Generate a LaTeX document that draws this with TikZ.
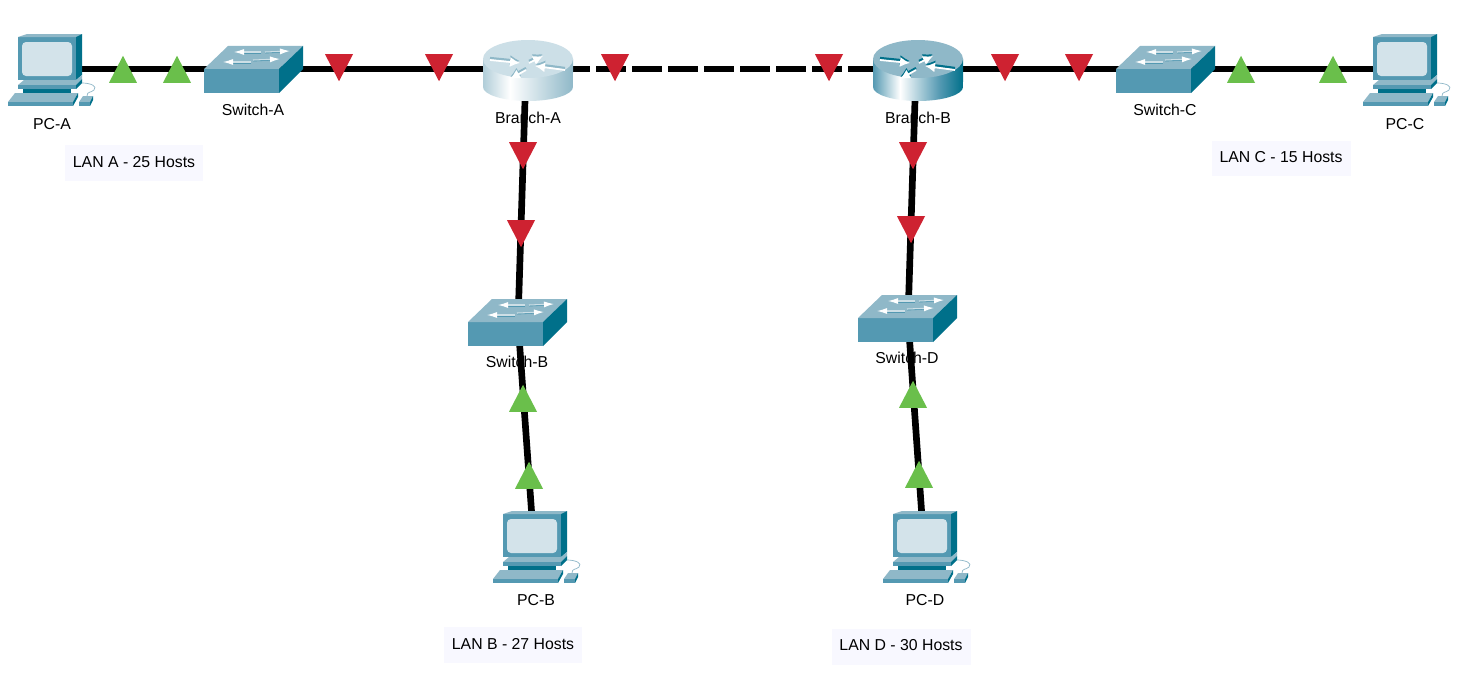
\documentclass[tikz,border=0pt]{standalone}
\usepackage{fontspec}
\setmainfont{Liberation Sans}
\usetikzlibrary{shapes.geometric,arrows.meta}
\definecolor{devfront}{HTML}{5499B2}
\definecolor{devtop}{HTML}{8FB8C8}
\definecolor{devside}{HTML}{00708A}
\definecolor{devscreen}{HTML}{D3E3EA}
\definecolor{linkred}{HTML}{CE2231}
\definecolor{linkgreen}{HTML}{6ABF4B}
\definecolor{lanfill}{HTML}{F8F8FF}
\pgfdeclarehorizontalshading{routerpale}{100bp}{color(0bp)=(white!30!devtop); color(25bp)=(white!30!devtop); color(40bp)=(white); color(75bp)=(devtop); color(100bp)=(devtop)}
\pgfdeclarehorizontalshading{routerdeep}{100bp}{color(0bp)=(devfront); color(25bp)=(devfront); color(40bp)=(white); color(62bp)=(devfront); color(75bp)=(devside); color(100bp)=(devside)}
\tikzset{
	spot/.style={inner sep=0pt, minimum size=0pt},
	link/.style={line width=3.8pt, color=black},
	reddown/.style={isosceles triangle, isosceles triangle apex angle=54, isosceles triangle stretches, fill=linkred, inner sep=0pt, minimum height=0.54cm, minimum width=0.56cm, shape border rotate=-90, anchor=apex},
	greenup/.style={isosceles triangle, isosceles triangle apex angle=54, isosceles triangle stretches, fill=linkgreen, inner sep=0pt, minimum height=0.54cm, minimum width=0.56cm, shape border rotate=90, anchor=apex},
	devlabel/.style={inner sep=0pt, font=\fontsize{9}{11}\selectfont},
	lanbox/.style={fill=lanfill, inner sep=0pt, minimum width=2.78cm, minimum height=0.72cm, text depth=1.2pt, font=\fontsize{9}{11}\selectfont},
	sharrow/.style={-{Latex[length=0.2cm, width=0.12cm, color=white]}, white!55!devtop, line width=0.6pt},
	shshadow/.style={line width=0.5pt, devfront},
	rtshadow/.style={-{Latex[length=0.2cm, width=0.2cm]}, line width=1.3pt},
	rtarrow/.style={-{Latex[length=0.2cm, width=0.2cm]}, white, line width=1pt},
}
\def\pcicon(#1){
	\begin{scope}[shift={(#1)}, xshift=-0.62cm, yshift=0.64cm]
		\fill[devfront] (0,0) rectangle (58,43);
		\fill[devtop] (0,0) -- (9,-3) -- (64,-3) -- (58,0) -- cycle;
		\fill[devside] (58,0) -- (64,-3) -- (64,38) -- (58,43) -- cycle;
		\fill[devscreen, rounded corners=0.08cm] (4,5) rectangle (54,39);
		\fill[devtop] (0,48) -- (6,43) -- (58,43) -- (64,38) -- (64,42) -- (58,48) -- cycle;
		\fill[devfront] (0,48) rectangle (58,52);
		\fill[devside] (58,48) -- (64,42) -- (64,46) -- (58,52) -- cycle;
		\fill[devside] (5,52) rectangle (53,56);
		\fill[devtop] (-3,56) -- (60,56) -- (55,65) -- (-10,65) -- cycle;
		\fill[devfront] (-10,65) rectangle (55,69);
		\fill[devside] (55,65) -- (60,56) -- (60,60) -- (55,69) -- cycle;
		\fill[devtop] (61,65) -- (65,59) -- (75,59) -- (72,65) -- cycle;
		\fill[devfront] (61,65) rectangle (72,69);
		\fill[devside] (72,65) -- (75,59) -- (75,63) -- (72,69) -- cycle;
		\draw[devtop, line width=0.4pt] (64,46) .. controls (72,46) and (80,49) .. (76,53) .. controls (73,56) and (69,54) .. (69,59);
	\end{scope}
}
\def\switchicon(#1){
	\begin{scope}[shift={(#1)}]
		\fill[devfront] (-50,0) rectangle (25,24);
		\fill[devtop] (-50,0) -- (-26,-23) -- (49,-23) -- (25,0) -- cycle;
		\fill[devside] (25,0) -- (49,-23) -- (49,0) -- (25,24) -- cycle;
		\draw[shshadow] (7,-16) -- (-14,-16);
		\draw[sharrow] (7,-17) -- (-20,-17);
		\draw[shshadow] (11,-16) -- (30,-17);
		\draw[sharrow] (11,-17) -- (36,-18);
		\draw[shshadow] (-3,-6) -- (-25,-6);
		\draw[sharrow] (-3,-7) -- (-31,-7);
		\draw[shshadow] (-1,-8) -- (20,-9);
		\draw[sharrow] (-1,-9) -- (26,-10);
	\end{scope}
}
\def\routericon(#1)[#2][#3][#4]{
	\begin{scope}[shift={(#1)}]
		\path[shading=#2] (-43,-10) -- (-43,18) arc [start angle=180, end angle=360, x radius=0.9cm, y radius=0.28cm] -- (47,-10) -- cycle;
		\fill[#3] (2,-10) ellipse [x radius=0.9cm, y radius=0.38cm];
		\draw[rtshadow, #4] (-36,-11) -- (-6,-8);
		\draw[rtarrow] (-36,-9) -- (-6,-6);
		\draw[rtshadow, #4] (3,-8) -- (17,-15);
		\draw[rtarrow] (3,-6) -- (17,-13);
		\draw[rtshadow, #4] (39,-1) -- (9,-5);
		\draw[rtarrow] (39,1) -- (9,-3);
		\draw[rtshadow, #4] (0,-1) -- (-16,8);
		\draw[rtarrow] (0,1) -- (-16,10);
	\end{scope}
}

\begin{document}
\begin{tikzpicture}[x=0.02cm, y=-0.02cm]
	%%%%% START %%%%%
	\useasboundingbox (0,0) rectangle (1473,679);
	\fill[white] (0,0) rectangle (1473,679);

	\node[spot] (pcA) at (49,69) {};
	\node[spot] (switchA) at (254,69) {};
	\node[spot] (branchA) at (526,69) {};
	\node[spot] (branchB) at (916,69) {};
	\node[spot] (switchC) at (1166,69) {};
	\node[spot] (pcC) at (1404,69) {};
	\node[spot] (switchB) at (518,322) {};
	\node[spot] (pcB) at (534,546) {};
	\node[spot] (switchD) at (908,318) {};
	\node[spot] (pcD) at (924,546) {};

	\draw[link] (pcA) -- (switchA);
	\draw[link] (switchA) -- (branchA);
	\draw[link, dash pattern=on 0.6cm off 0.12cm, dash phase=0.04cm] (branchA) -- (branchB);
	\draw[link] (branchB) -- (switchC);
	\draw[link] (switchC) -- (pcC);
	\draw[link] (branchA) -- (switchB);
	\draw[link] (switchB) -- (pcB);
	\draw[link] (branchB) -- (switchD);
	\draw[link] (switchD) -- (pcD);

	\pcicon(pcA)
	\pcicon(pcB)
	\pcicon(pcC)
	\pcicon(pcD)
	\switchicon(switchA)
	\switchicon(switchB)
	\switchicon(switchC)
	\switchicon(switchD)
	\routericon(branchA)[routerpale][devscreen!90!devtop][devtop]
	\routericon(branchB)[routerdeep][devtop][devside]

	\node[greenup] (upA1) at (123,55) {};
	\node[greenup] (upA2) at (177,55) {};
	\node[reddown] (downA1) at (339,82) {};
	\node[reddown] (downA2) at (439,82) {};
	\node[reddown] (downW1) at (615,82) {};
	\node[reddown] (downW2) at (829,82) {};
	\node[reddown] (downC1) at (1005,82) {};
	\node[reddown] (downC2) at (1079,82) {};
	\node[greenup] (upC1) at (1241,55) {};
	\node[greenup] (upC2) at (1333,55) {};
	\node[reddown] (downB1) at (523,170) {};
	\node[reddown] (downB2) at (521,248) {};
	\node[greenup] (upB1) at (523,384) {};
	\node[greenup] (upB2) at (529,461) {};
	\node[reddown] (downD1) at (913,170) {};
	\node[reddown] (downD2) at (911,244) {};
	\node[greenup] (upD1) at (913,380) {};
	\node[greenup] (upD2) at (919,460) {};

	\node[devlabel] (labelPCA) at (52,124) {PC-A};
	\node[devlabel] (labelSwA) at (253,110) {Switch-A};
	\node[devlabel] (labelBrA) at (528,118) {Branch-A};
	\node[devlabel] (labelBrB) at (918,118) {Branch-B};
	\node[devlabel] (labelSwC) at (1165,110) {Switch-C};
	\node[devlabel] (labelPCC) at (1405,124) {PC-C};
	\node[devlabel] (labelSwB) at (517,362) {Switch-B};
	\node[devlabel] (labelSwD) at (907,358) {Switch-D};
	\node[devlabel] (labelPCB) at (536,600) {PC-B};
	\node[devlabel] (labelPCD) at (925,600) {PC-D};

	\node[lanbox] (lanA) at (134,163) {LAN A - 25 Hosts};
	\node[lanbox] (lanC) at (1281,158.5) {LAN C - 15 Hosts};
	\node[lanbox] (lanB) at (513,645) {LAN B - 27 Hosts};
	\node[lanbox] (lanD) at (901,646.5) {LAN D - 30 Hosts};
	%%%%% END %%%%%
\end{tikzpicture}
\end{document}
